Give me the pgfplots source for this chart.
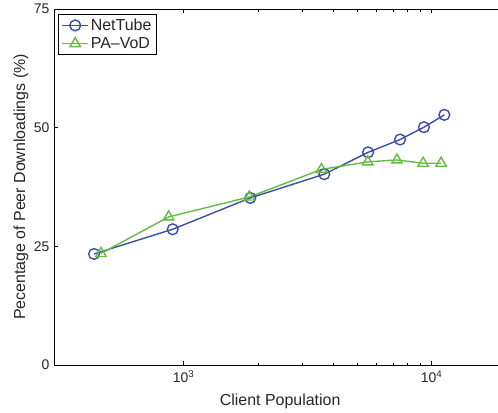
\documentclass[border=0pt]{standalone}
\usepackage{fontspec}
\setmainfont{Liberation Sans}
\usepackage{pgfplots}
\pgfplotsset{compat=1.18}
\definecolor{ntblue}{HTML}{3B4FA8}
\definecolor{pagreen}{HTML}{66BB44}
\definecolor{txt}{HTML}{262626}
\begin{document}
\begin{tikzpicture}
\begin{axis}[
  xmode=log, scale only axis, width=452.3bp, height=356bp,
  xmin=300, xmax=20000, ymin=0, ymax=75,
  ytick={0,25,50,75},
  xtick={1000,10000}, xticklabels={10\textsuperscript{3},10\textsuperscript{4}},
  /pgf/number format/assume math mode=true,
  tick align=inside,
  major tick length=4bp, minor tick length=2.5bp,
  axis line style={line width=1bp, black},
  every tick/.style={line width=0.7bp, black},
  ticklabel style={font=\fontsize{14}{16}\selectfont, text=txt},
  label style={font=\fontsize{16}{19}\selectfont, text=txt},
  xlabel={Client Population},
  ylabel={Pecentage of Peer Downloadings (\%)},
  xlabel style={at={(axis description cs:0.5,0)}, anchor=north, yshift=-25bp},
  ylabel style={at={(axis description cs:0,0.5)}, anchor=south, yshift=22bp},
  xticklabel style={yshift=-2bp},
  yticklabel style={xshift=-1bp},
  legend style={at={(axis description cs:0.009,0.986)}, anchor=north west,
    draw=black, line width=0.8bp, font=\fontsize{16}{19}\selectfont,
    inner xsep=3bp, inner ysep=2.5bp, row sep=1.5bp, text=txt},
  legend cell align=left,
  legend image code/.code={\draw[mark repeat=2,mark phase=2,#1, line width=1.4bp] plot coordinates {(0bp,0bp) (13bp,0bp) (26bp,0bp)};},
]
\addplot[color=ntblue, line width=1.4bp, mark=o, mark size=5.4bp, mark options={line width=1.4bp}]
coordinates {(435,23.4) (903,28.6) (1857,35.2) (3690,40.2) (5540,44.8) (7457,47.5) (9311,50.1) (11250,52.7)};
\addlegendentry{NetTube}
\addplot[color=pagreen, line width=1.4bp, mark=triangle, mark size=6bp, mark options={line width=1.4bp}]
coordinates {(464,23.5) (870,31.2) (1840,35.4) (3592,41.2) (5520,42.8) (7245,43.2) (9233,42.5) (10920,42.5)};
\addlegendentry{PA--VoD}
\end{axis}
\pgfresetboundingbox
\path ([xshift=-54bp,yshift=-48bp]current axis.south west) rectangle ([xshift=-8.3bp,yshift=9bp]current axis.north east);
\end{tikzpicture}
\end{document}
